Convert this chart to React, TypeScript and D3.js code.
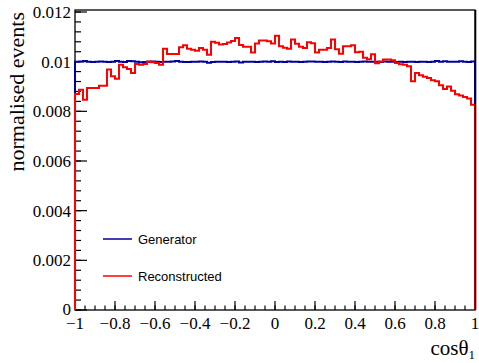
import React from "react";
import * as d3 from "d3";

const xDomain: [number, number] = [-1, 1];
const yDomain: [number, number] = [0, 0.01208];
const nBins = 100;

const reconstructed: number[] = [
  0.00870, 0.00887, 0.00847, 0.00894, 0.00894, 0.00894, 0.00903, 0.00903, 0.00968, 0.00941,
  0.00931, 0.00988, 0.00977, 0.00970, 0.00954, 0.00991, 0.00988, 0.00991, 0.01001, 0.00998,
  0.00995, 0.00988, 0.01052, 0.01031, 0.01031, 0.01031, 0.01058, 0.01066, 0.01052, 0.01048,
  0.01044, 0.01055, 0.01048, 0.01028, 0.01080, 0.01076, 0.01069, 0.01071, 0.01077, 0.01083,
  0.01095, 0.01067, 0.01060, 0.01060, 0.01037, 0.01073, 0.01085, 0.01085, 0.01082, 0.01073,
  0.01104, 0.01062, 0.01056, 0.01052, 0.01089, 0.01072, 0.01060, 0.01055, 0.01078, 0.01074,
  0.01037, 0.01048, 0.01048, 0.01055, 0.01089, 0.01050, 0.01032, 0.01062, 0.01062, 0.01066,
  0.01038, 0.01040, 0.01016, 0.01010, 0.01030, 0.00994, 0.01001, 0.01009, 0.01009, 0.01006,
  0.00995, 0.00990, 0.00988, 0.00982, 0.00921, 0.00954, 0.00945, 0.00939, 0.00934, 0.00925,
  0.00921, 0.00905, 0.00890, 0.00900, 0.00883, 0.00869, 0.00864, 0.00858, 0.00852, 0.00826,
];

const generator: number[] = [
  0.01000, 0.01001, 0.01003, 0.01000, 0.00999, 0.01000, 0.01001, 0.01000, 0.00999, 0.01000,
  0.01003, 0.01000, 0.00999, 0.01003, 0.01002, 0.01000, 0.00998, 0.00999, 0.01000, 0.01001,
  0.01000, 0.00999, 0.01000, 0.01000, 0.01001, 0.01003, 0.01000, 0.00999, 0.00999, 0.01000,
  0.01000, 0.01001, 0.01000, 0.00996, 0.00999, 0.01000, 0.01000, 0.01000, 0.00999, 0.01000,
  0.01001, 0.00997, 0.01000, 0.01000, 0.01000, 0.00999, 0.01000, 0.01001, 0.01000, 0.01002,
  0.00999, 0.01000, 0.00999, 0.01001, 0.01000, 0.01000, 0.00999, 0.01000, 0.01001, 0.01001,
  0.01000, 0.01000, 0.00999, 0.01000, 0.01001, 0.01000, 0.00999, 0.01001, 0.01000, 0.01000,
  0.00999, 0.01000, 0.01001, 0.01000, 0.01000, 0.01000, 0.00999, 0.01001, 0.01000, 0.01000,
  0.00999, 0.01000, 0.00999, 0.01000, 0.01000, 0.00999, 0.01000, 0.01000, 0.00999, 0.01000,
  0.01003, 0.01000, 0.01002, 0.01000, 0.01000, 0.01000, 0.01002, 0.01000, 0.00999, 0.01001,
];

const xMajorTicks = [-1, -0.8, -0.6, -0.4, -0.2, 0, 0.2, 0.4, 0.6, 0.8, 1];
const xTickLabels = ["\u22121", "\u22120.8", "\u22120.6", "\u22120.4", "\u22120.2", "0", "0.2", "0.4", "0.6", "0.8", "1"];
const yMajorTicks = [0, 0.002, 0.004, 0.006, 0.008, 0.01, 0.012];
const yTickLabels = ["0", "0.002", "0.004", "0.006", "0.008", "0.01", "0.012"];

const legendLabels = ["Generator", "Reconstructed"];
const seriesColors = ["#00009a", "#ff0000"];

const W = 479, H = 363;
const left = 75, right = 475, top = 10, bottom = 310;

export default function App() {
  const x = d3.scaleLinear().domain(xDomain).range([left, right]);
  const y = d3.scaleLinear().domain(yDomain).range([bottom, top]);
  const binW = (xDomain[1] - xDomain[0]) / nBins;

  const histPath = (vals: number[]) => {
    const pts: [number, number][] = [[x(xDomain[0]), y(0)]];
    vals.forEach((v, i) => {
      const x0 = xDomain[0] + i * binW;
      pts.push([x(x0), y(v)]);
      pts.push([x(x0 + binW), y(v)]);
    });
    pts.push([x(xDomain[1]), y(0)]);
    return d3.line()(pts) || "";
  };

  const xMinor = d3.range(-1, 1.0001, 0.05).map((v) => +v.toFixed(3));
  const yMinor = d3.range(0, 0.01208, 0.0004).map((v) => +v.toFixed(5));

  const serif = "'Liberation Serif', 'Times New Roman', serif";
  const sans = "'Liberation Sans', Arial, sans-serif";

  return (
    <svg width={W} height={H} style={{ position: "absolute", left: 0, top: 0, background: "#fff" }}>
      <rect x={0} y={0} width={W} height={H} fill="#fff" />
      {/* frame */}
      <rect x={left} y={top} width={right - left} height={bottom - top} fill="none" stroke="#000" strokeWidth={1.3} />
      {/* x ticks */}
      {xMinor.map((v, i) => (
        <line key={"xm" + i} x1={x(v)} x2={x(v)} y1={bottom} y2={bottom - 4.5} stroke="#000" strokeWidth={1.2} />
      ))}
      {xMajorTicks.map((v, i) => (
        <line key={"xM" + i} x1={x(v)} x2={x(v)} y1={bottom} y2={bottom - 9} stroke="#000" strokeWidth={1.2} />
      ))}
      {xMajorTicks.map((v, i) => (
        <text key={"xl" + i} x={x(v)} y={329} textAnchor="middle" fontFamily={serif} fontSize={17} fill="#000">
          {xTickLabels[i]}
        </text>
      ))}
      {/* y ticks */}
      {yMinor.map((v, i) => (
        <line key={"ym" + i} x1={left} x2={left + 6} y1={y(v)} y2={y(v)} stroke="#000" strokeWidth={1.2} />
      ))}
      {yMajorTicks.map((v, i) => (
        <line key={"yM" + i} x1={left} x2={left + 12} y1={y(v)} y2={y(v)} stroke="#000" strokeWidth={1.2} />
      ))}
      {yMajorTicks.map((v, i) => (
        <text key={"yl" + i} x={71} y={y(v) + (i === 0 ? 5 : 6)} textAnchor="end" fontFamily={serif} fontSize={17} fill="#000">
          {yTickLabels[i]}
        </text>
      ))}
      {/* histograms */}
      <path d={histPath(generator)} fill="none" stroke={seriesColors[0]} strokeWidth={2} />
      <path d={histPath(reconstructed)} fill="none" stroke={seriesColors[1]} strokeWidth={2} />
      {/* right frame edge over the histograms */}
      <line x1={right + 0.5} x2={right + 0.5} y1={top} y2={bottom} stroke="#000" strokeWidth={1.6} />
      {/* axis titles */}
      <text x={475} y={355} textAnchor="end" fontFamily={serif} fontSize={21} fill="#000">
        cos{"\u03b8"}
        <tspan fontSize={13} dy={4}>1</tspan>
      </text>
      <text
        transform={`translate(24, ${12}) rotate(-90)`}
        textAnchor="end"
        fontFamily={serif}
        fontSize={22}
        fill="#000"
      >
        normalised events
      </text>
      {/* legend */}
      {legendLabels.map((lab, i) => (
        <g key={"lg" + i}>
          <line x1={103} x2={132} y1={239 + i * 37} y2={239 + i * 37} stroke={seriesColors[i]} strokeWidth={1.5} />
          <text x={138} y={244 + i * 37} fontFamily={sans} fontSize={13} fill="#000">
            {lab}
          </text>
        </g>
      ))}
    </svg>
  );
}
